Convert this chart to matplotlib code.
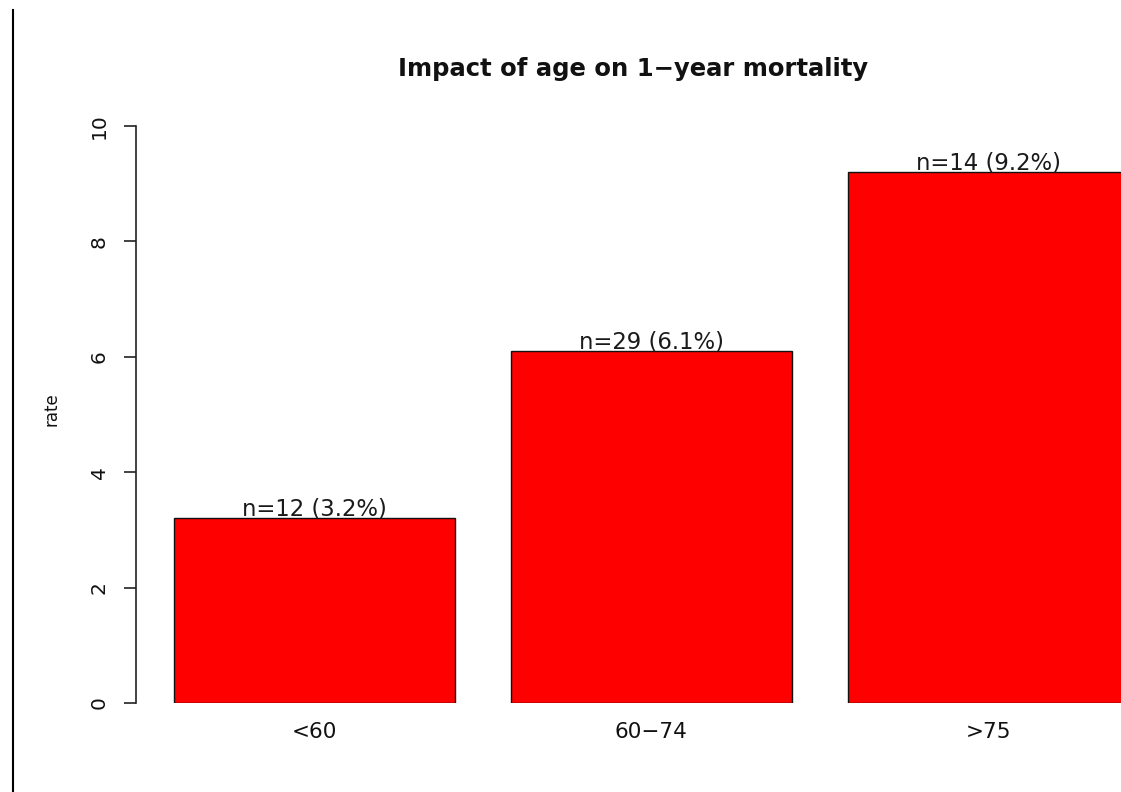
import matplotlib
matplotlib.use("Agg")
import matplotlib.pyplot as plt
from matplotlib.lines import Line2D

plt.rcParams['font.family'] = ['DejaVu Sans']

categories = ["<60", "60\u221274", ">75"]
rates = [3.2, 6.1, 9.2]
counts = [12, 29, 14]
yticks = [0, 2, 4, 6, 8, 10]
title = "Impact of age on 1\u2212year mortality"
ylabel = "rate"

W, H = 1121, 792
fig = plt.figure(figsize=(W / 100, H / 100), dpi=100)
fig.patch.set_facecolor("white")

# axes placed in pixel terms
ax_left, ax_right, ax_top, ax_bottom = 136, 1121, 126, 703
ax = fig.add_axes([ax_left / W, 1 - ax_bottom / H,
                   (ax_right - ax_left) / W, (ax_bottom - ax_top) / H])

space, width = 0.2, 1.0
centers = [space + i * (width + space) + width / 2 for i in range(len(rates))]

ax.bar(centers, rates, width=width, color="#FF0000", edgecolor="#111111",
       linewidth=1.0, clip_on=True)

for c, r, n in zip(centers, rates, counts):
    ax.annotate(f"n={n} ({r}%)", xy=(c, r), xytext=(0, 1.8),
                textcoords="offset points", ha="center", va="baseline",
                fontsize=16.4, color="#1a1a1a", annotation_clip=False)

unit = 280.8
x0_pix = 174 - space * unit
ax.set_xlim((ax_left - x0_pix) / unit, (ax_right - x0_pix) / unit)
ax.set_ylim(0, 10)

for s in ["top", "right", "bottom"]:
    ax.spines[s].set_visible(False)
ax.spines["left"].set_bounds(0, 10)
ax.spines["left"].set_color("#222222")
ax.spines["left"].set_linewidth(1.2)

ax.set_yticks(yticks)
ax.set_yticklabels([str(t) for t in yticks], rotation=90, va="center")
ax.tick_params(axis="y", length=8.6, width=1.2, color="#222222", pad=11,
               labelsize=14.5, labelcolor="#111111")

ax.set_xticks(centers)
ax.set_xticklabels(categories)
ax.tick_params(axis="x", length=0, pad=14, labelsize=15.5, labelcolor="#111111")

fig.text(52 / W, 1 - 409 / H, ylabel, rotation=90, ha="center", va="center",
         fontsize=12, color="#111111")
fig.text(633 / W, 1 - 69 / H, title, ha="center", va="center",
         fontsize=17.5, fontweight="bold", color="#111111")

fig.add_artist(Line2D([13 / W, 13 / W], [0, 1 - 10 / H], color="black",
                      linewidth=1.5, transform=fig.transFigure))

fig.savefig("out.png", dpi=100, facecolor="white")
